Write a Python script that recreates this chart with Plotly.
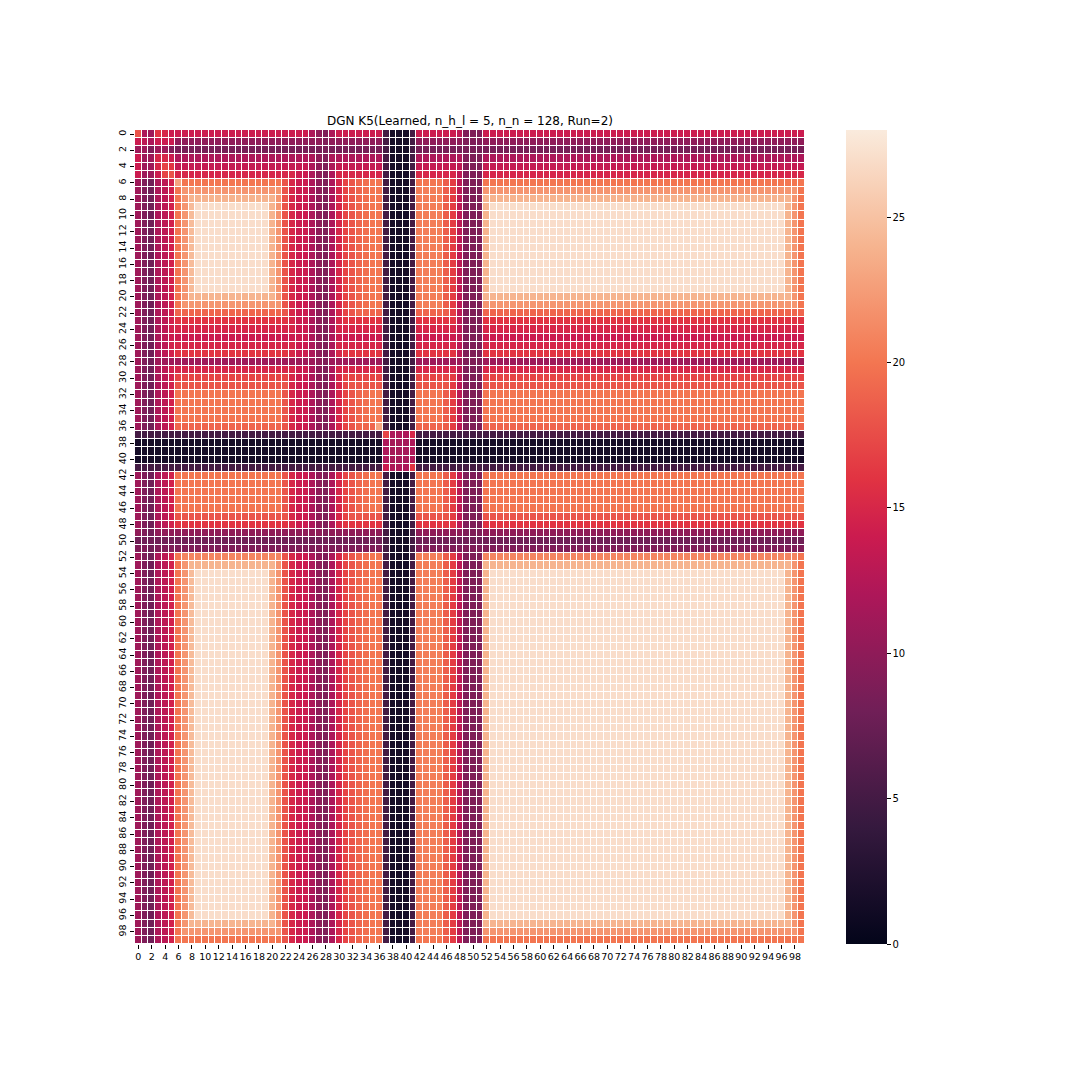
import plotly.graph_objects as go

# ---- data ----
indices = list(range(100))
tick_vals = list(range(0, 100, 2))
tick_text = [str(v) for v in tick_vals]

# level of each row against the bright columns
row_levels = [
    14, 10, 8.5, 12, 13.5, 15, 20, 22, 24, 27,
    27, 27, 27, 27, 27, 27, 27, 27, 27, 27,
    24, 22, 19, 16, 15, 14, 15, 16, 11, 15,
    17, 18, 20, 20, 20, 20, 19, 5, 1.5, 1.5,
    1.5, 5, 20, 20, 20, 20, 20, 18, 16, 10,
    8, 9, 21, 24, 27, 27, 27, 27, 27, 27,
    27, 27, 27, 27, 27, 27, 27, 27, 27, 27,
    27, 27, 27, 27, 27, 27, 27, 27, 27, 27,
    27, 27, 27, 27, 27, 27, 27, 27, 27, 27,
    27, 27, 27, 27, 27, 27, 27, 24, 22, 20,
]

# level of each column against the bright rows
col_levels = [
    11, 9, 8, 12, 13, 14.5, 20, 22, 24.5, 27,
    27, 27, 27, 27, 27, 27, 27, 27, 27, 27,
    24, 22, 18, 15, 14, 14, 12, 10, 9, 12,
    15, 17, 18, 19, 19.5, 20, 20, 5, 1.5, 1.5,
    1.5, 5, 20.5, 20.5, 20.5, 20.5, 18.5, 16.5, 13, 9,
    9, 9, 24, 27, 27, 27, 27, 27, 27, 27,
    27, 27, 27, 27, 27, 27, 27, 27, 27, 27,
    27, 27, 27, 27, 27, 27, 27, 27, 27, 27,
    27, 27, 27, 27, 27, 27, 27, 27, 27, 27,
    27, 27, 27, 27, 27, 27, 27, 24, 22, 20,
]

# top-left block (rows 0-5, cols 0-5)
corner_start = 0
corner_block = [
    [18, 12, 11, 16, 15, 14],
    [14, 13, 12, 14, 14, 14],
    [11, 11, 9, 11, 11, 9],
    [14, 11, 11, 15, 15, 14],
    [14, 11, 11, 15, 17, 16],
    [14, 11, 11, 14, 17, 18],
]

# central block (rows 37-41, cols 37-41)
center_start = 37
center_block = [
    [17, 12, 12, 12, 15],
    [12, 11.5, 11.5, 11.5, 12],
    [12, 11.5, 11.5, 11.5, 12],
    [12, 11.5, 11.5, 11.5, 12],
    [14, 12, 12, 12, 16],
]

diag_idx = [6, 36]
diag_vals = [23, 23]

title_text = "DGN K5(Learned, n_h_l = 5, n_n = 128, Run=2)"
cbar_ticks = [0, 5, 10, 15, 20, 25]

# ---- build matrix ----
z = [[min(r, c) for c in col_levels] for r in row_levels]
for bi, brow in enumerate(corner_block):
    for bj, v in enumerate(brow):
        z[corner_start + bi][corner_start + bj] = v
for bi, brow in enumerate(center_block):
    for bj, v in enumerate(brow):
        z[center_start + bi][center_start + bj] = v
for k, v in zip(diag_idx, diag_vals):
    z[k][k] = v

rocket = [
    [0.0, "#03051a"],
    [1 / 7, "#35193e"],
    [2 / 7, "#701f57"],
    [3 / 7, "#ad1759"],
    [0.5, "#cb1b4f"],
    [4 / 7, "#e13342"],
    [5 / 7, "#f37651"],
    [6 / 7, "#f6b48f"],
    [1.0, "#faebdd"],
]

# page body has an 8px margin, so shift everything by 8px
OFF = 8
L, R, T, B = 135 - OFF, 805 - OFF, 130 - OFF, 944 - OFF
W = H = 1080
pw = R - L

fig = go.Figure(
    go.Heatmap(
        z=z,
        x=indices,
        y=indices,
        colorscale=rocket,
        zmin=0,
        zmax=28,
        xgap=1,
        ygap=1,
        colorbar=dict(
            thickness=41,
            len=1,
            lenmode="fraction",
            y=0.5,
            yanchor="middle",
            x=(846 - OFF - L) / pw,
            xanchor="left",
            xpad=0,
            ypad=0,
            outlinewidth=0,
            tickvals=cbar_ticks,
            ticks="outside",
            ticklen=4,
            tickcolor="#000",
            tickfont=dict(family="DejaVu Sans", size=10, color="#000"),
        ),
    )
)

fig.update_layout(
    width=W,
    height=H,
    margin=dict(l=L, r=W - R, t=T, b=H - B, pad=0),
    paper_bgcolor="white",
    plot_bgcolor="white",
    title=dict(
        text=title_text,
        x=0.5,
        xref="paper",
        xanchor="center",
        y=1 - (121 - OFF) / H,
        yref="container",
        yanchor="middle",
        font=dict(family="DejaVu Sans", size=12, color="#000"),
    ),
    font=dict(family="DejaVu Sans", color="#000"),
)

fig.update_xaxes(
    range=[-0.5, 99.5],
    tickvals=tick_vals,
    ticktext=tick_text,
    tickangle=0,
    ticks="outside",
    ticklen=4,
    tickcolor="#000",
    tickfont=dict(size=9.5),
    showgrid=False,
    zeroline=False,
    showline=False,
    automargin=False,
)
fig.update_yaxes(
    range=[99.5, -0.5],
    tickvals=tick_vals,
    ticktext=tick_text,
    tickangle=-90,
    ticks="outside",
    ticklen=4,
    tickcolor="#000",
    tickfont=dict(size=9.5),
    showgrid=False,
    zeroline=False,
    showline=False,
    automargin=False,
)

fig.write_html("out.html")
